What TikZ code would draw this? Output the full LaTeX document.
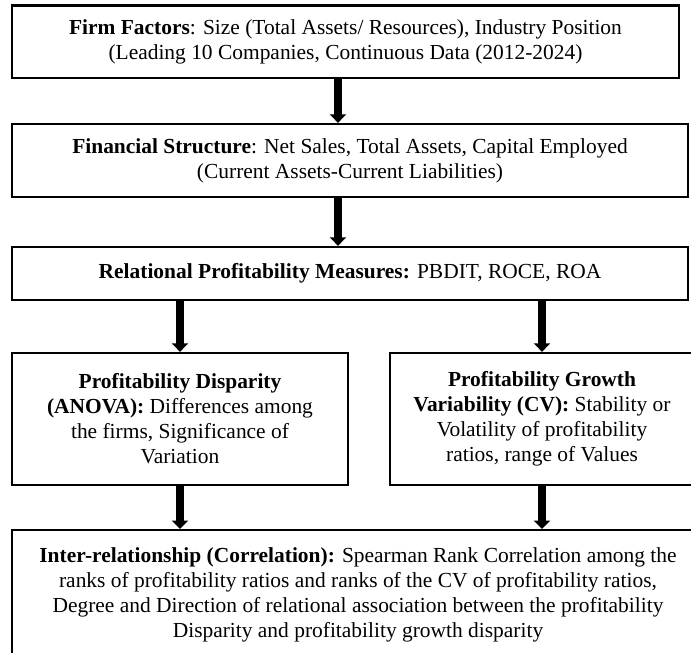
\documentclass[tikz,border=0pt]{standalone}
\usepackage{fontspec}
\setmainfont{Liberation Serif}
\usetikzlibrary{arrows.meta}
\usetikzlibrary{positioning}

\tikzset{
  stage/.style={draw, line width=1.3pt, align=center, inner sep=2pt,
    font=\fontsize{12.2}{14.2}\selectfont},
  flow/.style={line width=4pt, -{Triangle[width=0.32cm,length=0.17cm]}}
}

\begin{document}
\begin{tikzpicture}
\useasboundingbox (0,0) rectangle (13.82,-13.06);
\clip (0,0) rectangle (13.82,-13.06);

\coordinate (spine) at (6.76,0);

% first three stages, full width
\node[stage, minimum width=13.34cm, minimum height=1.45cm] (firm) at (6.91,-0.835)
  {\textbf{Firm Factors}: Size (Total Assets/ Resources), Industry Position\\
   (Leading 10 Companies, Continuous Data (2012-2024)};

\node[stage, minimum width=13.52cm, minimum height=1.46cm] (fin) at (7.0,-3.21)
  {\textbf{Financial Structure}: Net Sales, Total Assets, Capital Employed\\
   (Current Assets-Current Liabilities)};

\node[stage, minimum width=13.52cm, minimum height=1.06cm] (meas) at (7.0,-5.47)
  {\textbf{Relational Profitability Measures:} PBDIT, ROCE, ROA};

% two branches
\node[stage, minimum width=6.72cm, minimum height=2.64cm] (disp) at (3.6,-8.38)
  {\textbf{Profitability Disparity}\\
   \textbf{(ANOVA):} Differences among\\
   the firms, Significance of\\
   Variation};

\node[stage, minimum width=6.08cm, minimum height=2.64cm] (grow) at (10.84,-8.38)
  {\textbf{Profitability Growth}\\
   \textbf{Variability (CV):} Stability or\\
   Volatility of profitability\\
   ratios, range of Values};

% joining stage, runs past the lower edge
\node[stage, line width=1.1pt, minimum width=13.84cm, minimum height=2.6cm] (corr) at (7.16,-11.9)
  {\textbf{Inter-relationship (Correlation):} Spearman Rank Correlation among the\\
   ranks of profitability ratios and ranks of the CV of profitability ratios,\\
   Degree and Direction of relational association between the profitability\\
   Disparity and profitability growth disparity};

\draw[flow] (firm.south -| spine) -- (fin.north -| spine);
\draw[flow] (fin.south -| spine) -- (meas.north -| spine);
\draw[flow] (meas.south -| disp) -- (disp.north);
\draw[flow] (meas.south -| grow) -- (grow.north);
\draw[flow] (disp.south) -- (corr.north -| disp);
\draw[flow] (grow.south) -- (corr.north -| grow);

\end{tikzpicture}
\end{document}
